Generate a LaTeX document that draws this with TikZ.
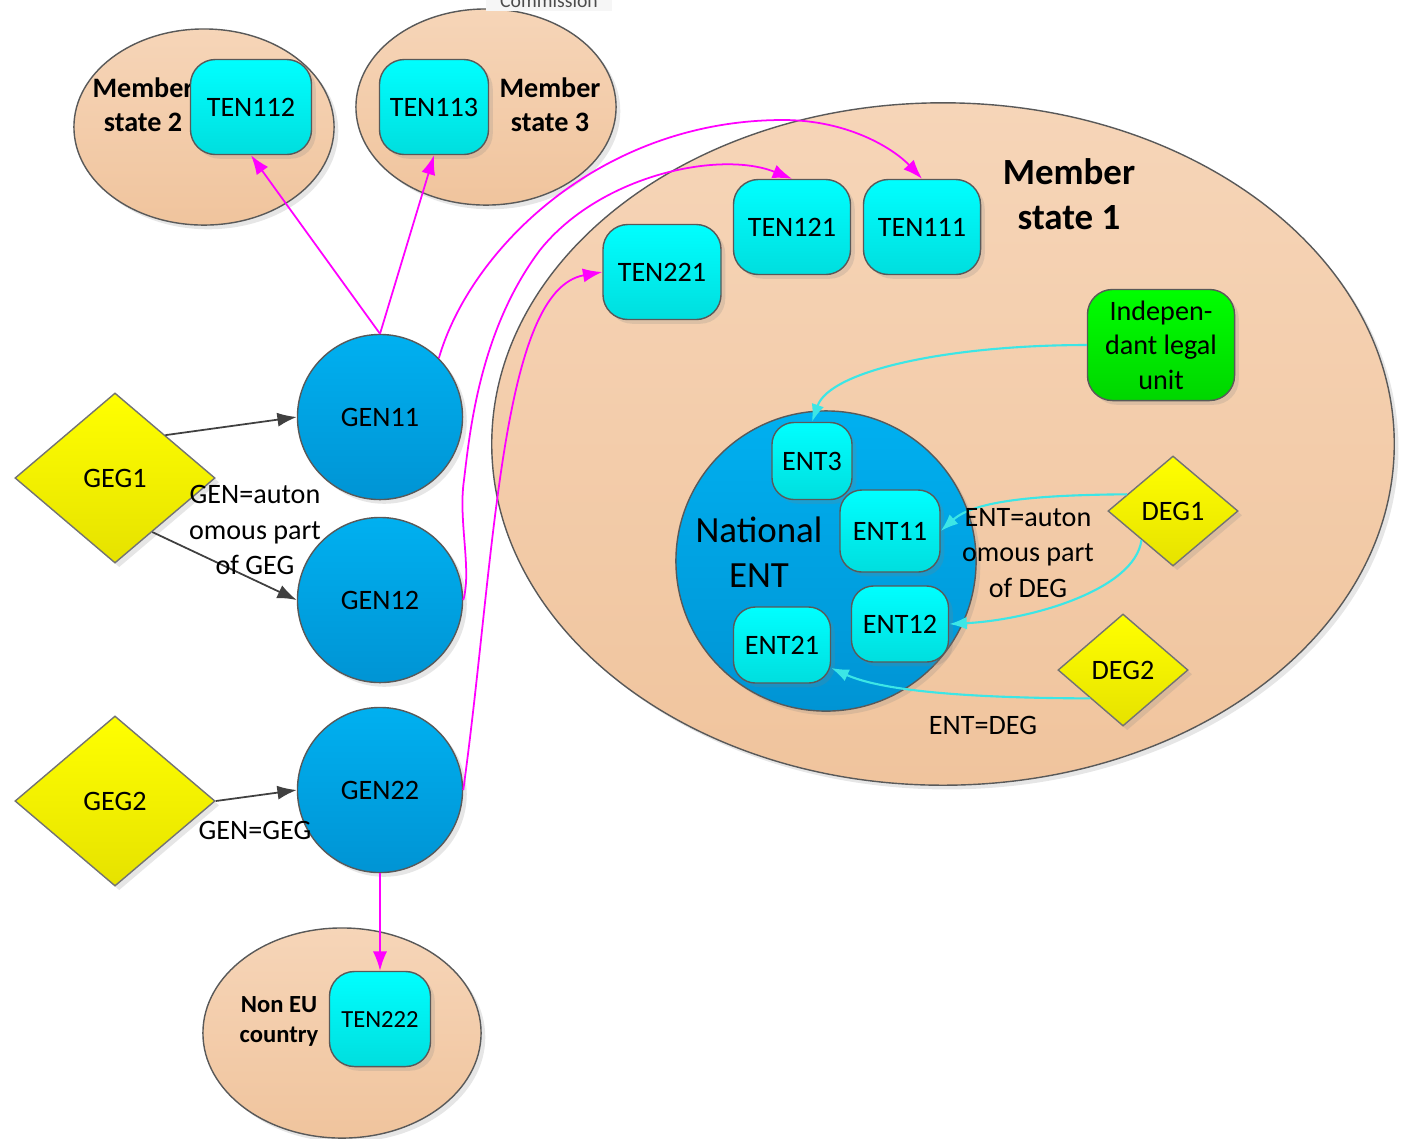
\documentclass[tikz,border=0pt]{standalone}
\usepackage{fontspec}
\setmainfont{Carlito}
\usepackage{tikz}
\usetikzlibrary{arrows.meta,positioning,shapes.geometric,shadows,calc}

\definecolor{peachtop}{RGB}{246,213,184}
\definecolor{peachbot}{RGB}{240,196,157}
\definecolor{gentop}{RGB}{0,176,240}
\definecolor{genbot}{RGB}{0,148,212}
\definecolor{tentop}{RGB}{0,255,255}
\definecolor{tenbot}{RGB}{0,222,222}
\definecolor{gegtop}{RGB}{255,255,0}
\definecolor{gegbot}{RGB}{230,226,0}
\definecolor{legaltop}{RGB}{0,255,0}
\definecolor{legalbot}{RGB}{0,214,0}
\definecolor{tenpink}{RGB}{255,0,255}
\definecolor{entcyan}{RGB}{60,230,230}
\definecolor{geggray}{RGB}{64,64,64}

\tikzset{
  softshadow/.style={drop shadow={opacity=0.2,shadow xshift=1.2pt,shadow yshift=-1.2pt}},
  country/.style={ellipse,draw=black!65,top color=peachtop,bottom color=peachbot,inner sep=0pt,softshadow},
  gen/.style={circle,draw=black!65,top color=gentop,bottom color=genbot,minimum size=1.65cm,inner sep=0pt,softshadow},
  ten/.style={rectangle,rounded corners=0.25cm,draw=black!65,top color=tentop,bottom color=tenbot,minimum height=0.95cm,inner sep=1pt,softshadow},
  ent/.style={ten,rounded corners=0.22cm},
  geg/.style={diamond,draw=black!55,top color=gegtop,bottom color=gegbot,inner sep=0pt,softshadow},
  tenlink/.style={draw=tenpink,line width=0.5pt,-{Latex[length=5.5pt,width=4pt]}},
  entlink/.style={draw=entcyan,line width=0.6pt,-{Latex[length=5pt,width=3.6pt]}},
  geglink/.style={draw=geggray,line width=0.5pt,-{Latex[length=5.5pt,width=4pt]}}
}

\begin{document}
\begin{tikzpicture}[x=0.01cm,y=-0.01cm,font=\fontsize{8}{10}\selectfont]
  \useasboundingbox (0,0) rectangle (1403,1138);

  % countries
  \node (ms1) [country,minimum width=9.02cm,minimum height=6.82cm] at (943,444) {};
  \node (ms2) [country,minimum width=2.6cm,minimum height=1.96cm] at (204,127) {};
  \node (ms3) [country,minimum width=2.6cm,minimum height=1.96cm] at (486,107) {};
  \node (noneu) [country,minimum width=2.78cm,minimum height=2.1cm] at (342,1033) {};
  \node (comm) [fill=gray!7,text=black!70,inner xsep=4pt,inner ysep=1pt,
    font=\fontsize{5.6}{6}\selectfont] at (549,1) {Commission};

  \node (ms1lbl) [align=center,font=\fontsize{10.5}{12.8}\selectfont\bfseries] at (1069,194) {Member\\state 1};
  \node (ms2lbl) [align=center,font=\fontsize{8}{9.7}\selectfont\bfseries] at (143,105) {Member\\state 2};
  \node (ms3lbl) [align=center,font=\fontsize{8}{9.7}\selectfont\bfseries] at (550,105) {Member\\state 3};
  \node (noneulbl) [align=center,font=\fontsize{7}{8.5}\selectfont\bfseries] at (279,1021) {Non EU\\country};

  % enterprises
  \node (ten112) [ten,minimum width=1.21cm] at (251,107) {TEN112};
  \node (ten113) [ten,minimum width=1.09cm] at (434,107) {TEN113};
  \node (ten121) [ten,minimum width=1.17cm] at (792,227) {TEN121};
  \node (ten111) [ten,minimum width=1.17cm] at (922,227) {TEN111};
  \node (ten221) [ten,minimum width=1.18cm] at (662,272) {TEN221};
  \node (ten222) [ten,minimum width=1.01cm,font=\fontsize{7}{8}\selectfont] at (380,1019) {TEN222};
  \node (legal) [ten,draw=black!65,top color=legaltop,bottom color=legalbot,align=center,
    minimum width=1.47cm,minimum height=1.11cm,font=\fontsize{8}{9.8}\selectfont] at (1161,345) {Indepen-\\dant legal\\unit};

  % national enterprise
  \node (natent) [gen,minimum size=3.0cm] at (826,561) {};
  \node (natlbl) [align=center,font=\fontsize{10.5}{12.8}\selectfont] at (759,552) {National\\ENT};
  \node (ent3) [ent,minimum width=0.80cm,minimum height=0.77cm] at (812,461) {ENT3};
  \node (ent11) [ent,minimum width=1.0cm,minimum height=0.82cm] at (890,531) {ENT11};
  \node (ent12) [ent,minimum width=0.97cm,minimum height=0.76cm] at (900,624) {ENT12};
  \node (ent21) [ent,minimum width=0.97cm,minimum height=0.76cm] at (782,645) {ENT21};

  % groups
  \node (gen11) [gen] at (380,417) {GEN11};
  \node (gen12) [gen] at (380,600) {GEN12};
  \node (gen22) [gen] at (380,790) {GEN22};
  \node (geg1) [geg,minimum width=2.0cm,minimum height=1.7cm] at (115,478) {GEG1};
  \node (geg2) [geg,minimum width=2.0cm,minimum height=1.7cm] at (115,801) {GEG2};
  \node (deg1) [geg,minimum width=1.3cm,minimum height=1.1cm] at (1173,511) {DEG1};
  \node (deg2) [geg,minimum width=1.3cm,minimum height=1.12cm] at (1123,670) {DEG2};

  % links
  \path[geglink] (geg1.north east) -- (gen11.west);
  \path[geglink] ($(geg1.east)!0.63!(geg1.south)$) -- (gen12.west);
  \path[geglink] (geg2.east) -- (gen22.west);
  \node (gegauton) [align=center] at (255,530) {GEN=auton\\omous part\\of GEG};
  \node (geglbl) at (255,830) {GEN=GEG};

  \path[tenlink] (gen11.north) -- (ten112.south);
  \path[tenlink] (gen11.north) -- (ten113.south);
  \path[tenlink] (gen11.45) .. controls (470,250) and (600,120) .. (783,120)
    .. controls (850,120) and (895,150) .. (ten111.north);
  \path[tenlink] (gen12.east) .. controls (472,570) and (458,520) .. (464,480)
    .. controls (470,430) and (480,330) .. (540,250)
    .. controls (600,175) and (720,150) .. (ten121.north);
  \path[tenlink] (gen22.east) .. controls (495,560) and (500,290) .. (ten221.west);
  \path[tenlink] (gen22.south) -- (ten222.north);

  \path[entlink] (legal.west) .. controls (950,345) and (830,370) .. (ent3.north);
  \path[entlink] ($(deg1.west)!0.3!(deg1.north)$) .. controls (1040,495) and (975,500) .. (ent11.east);
  \path[entlink] ($(deg1.west)!0.52!(deg1.south)$) .. controls (1135,590) and (1030,620) .. (ent12.east);
  \path[entlink] ($(deg2.west)!0.5!(deg2.south)$) .. controls (960,698) and (880,690) .. (ent21.-25);
  \node (degauton) [align=center] at (1028,553) {ENT=auton\\omous part\\of DEG};
  \node (deglbl) at (983,725) {ENT=DEG};
\end{tikzpicture}
\end{document}
